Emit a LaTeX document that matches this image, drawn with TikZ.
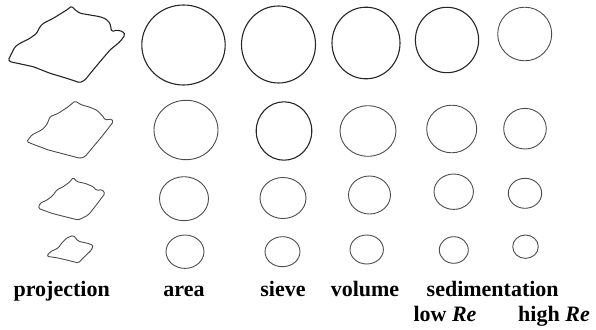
\documentclass[tikz,border=0pt]{standalone}
\usepackage{fontspec}
\setmainfont{Liberation Serif}
\begin{document}
\begin{tikzpicture}[x=1pt,y=-1pt,
  outl/.style={draw=black!85, line width=1.1pt, line join=round},
  outlthin/.style={draw=black!70, line width=0.9pt, line join=round},
  proj/.style={rounded corners=1.5pt, line join=round},
  lbl/.style={anchor=base, inner sep=0pt, font=\fontsize{22}{26}\selectfont\bfseries}]
\useasboundingbox (0,0) rectangle (596,329);
% projections
\draw[outl, proj] (71.7,6) -- (74,9) -- (80,13.3) -- (90,15) -- (100,16.7) -- (106,19) -- (110,23.3) -- (111.7,31.7) -- (116.7,30) -- (123.3,31.7) -- (125,35)
 -- (120,41.7) -- (110,50) -- (100,61.7) -- (91.7,71.7) -- (85,80) -- (80,82.7) -- (66.7,78.3) -- (50,73.3) -- (33.3,66.7)
 -- (10,61.7) -- (8.3,60) -- (15,46.7) -- (20,43.3) -- (30,38.3) -- (36.7,33.3) -- (40,26.7) -- (43.3,23.3) -- (53.3,18.3) -- (66.7,10) -- cycle;
\draw[outlthin, proj] (75,101) -- (81.7,105) -- (88.3,106.7) -- (96.7,110) -- (103.3,116.7) -- (105,120) -- (111.7,119) -- (113.3,121.7)
 -- (108.3,128.3) -- (101.7,136.7) -- (93.3,146.7) -- (85,156.7) -- (80,158.3) -- (65,154.3) -- (48.3,150) -- (35,145)
 -- (26.7,141.7) -- (31.7,135) -- (41.7,130) -- (46.7,125) -- (50,116.7) -- (58.3,113.3) -- (68.3,106.7) -- cycle;
\draw[outlthin, proj] (73.3,177.3) -- (76.7,181.7) -- (85,183.3) -- (93.3,186.7) -- (96.7,190.7) -- (101.7,189.3) -- (105,193.3)
 -- (100,200) -- (95,206.7) -- (88.3,215) -- (78.3,220) -- (65,216.7) -- (51.7,213.3) -- (38.3,208.3) -- (40,203.3)
 -- (48.3,199.3) -- (53.3,195) -- (56.7,190) -- (63.3,186.7) -- (70,181.7) -- cycle;
\draw[outlthin, proj] (73.3,235.3) -- (78.3,241.3) -- (86.7,243) -- (93.3,245.3) -- (91.7,249.7) -- (85,256.3) -- (78.3,263)
 -- (71.7,261.3) -- (58.3,258) -- (46.7,256.3) -- (50,252) -- (58.3,248) -- (61.7,243) -- (66.7,238) -- cycle;
% row 1
\draw[outl] (183.5,45) ellipse [x radius=41.7pt, y radius=40pt];
\draw[outl] (278.5,44.5) ellipse [x radius=37pt, y radius=38.5pt];
\draw[outl] (366,43) ellipse [x radius=34pt, y radius=35.8pt];
\draw[outl] (447,40) ellipse [x radius=31.6pt, y radius=32.7pt];
\draw[outlthin] (524.7,34) ellipse [x radius=27pt, y radius=26.8pt];
% row 2
\draw[outlthin] (186,130) ellipse [x radius=32pt, y radius=29.7pt];
\draw[outl] (284,131) ellipse [x radius=27.8pt, y radius=29.2pt];
\draw[outlthin] (368,131) ellipse [x radius=28pt, y radius=25.3pt];
\draw[outlthin] (451.7,129) ellipse [x radius=25pt, y radius=23.8pt];
\draw[outlthin] (525,128.7) ellipse [x radius=21.3pt, y radius=20.3pt];
% row 3
\draw[outlthin] (184,198.7) ellipse [x radius=24.5pt, y radius=22pt];
\draw[outlthin] (283,198) ellipse [x radius=23pt, y radius=20.5pt];
\draw[outlthin] (369.5,195) ellipse [x radius=21pt, y radius=19pt];
\draw[outlthin] (453.7,191.7) ellipse [x radius=19.7pt, y radius=17.7pt];
\draw[outlthin] (525,193.3) ellipse [x radius=16.7pt, y radius=15pt];
% row 4
\draw[outlthin] (185,251.7) ellipse [x radius=19pt, y radius=16.7pt];
\draw[outlthin] (282.5,251.7) ellipse [x radius=17.5pt, y radius=15pt];
\draw[outlthin] (366.7,249.5) ellipse [x radius=16.7pt, y radius=14.5pt];
\draw[outlthin] (453.8,250) ellipse [x radius=14.5pt, y radius=13.3pt];
\draw[outlthin] (525.5,246.7) ellipse [x radius=12.8pt, y radius=11.7pt];
% labels
\node[lbl] (lproj) at (61.7,296.7) {projection};
\node[lbl] (larea) at (184,296.7) {area};
\node[lbl] (lsieve) at (283,296.7) {sieve};
\node[lbl] (lvol) at (365,296.7) {volume};
\node[lbl] (lsed) at (492.7,296.7) {sedimentation};
\node[lbl] (llow) at (445,321.7) {low \textit{Re}};
\node[lbl] (lhigh) at (554,321.7) {high \textit{Re}};
\end{tikzpicture}
\end{document}
